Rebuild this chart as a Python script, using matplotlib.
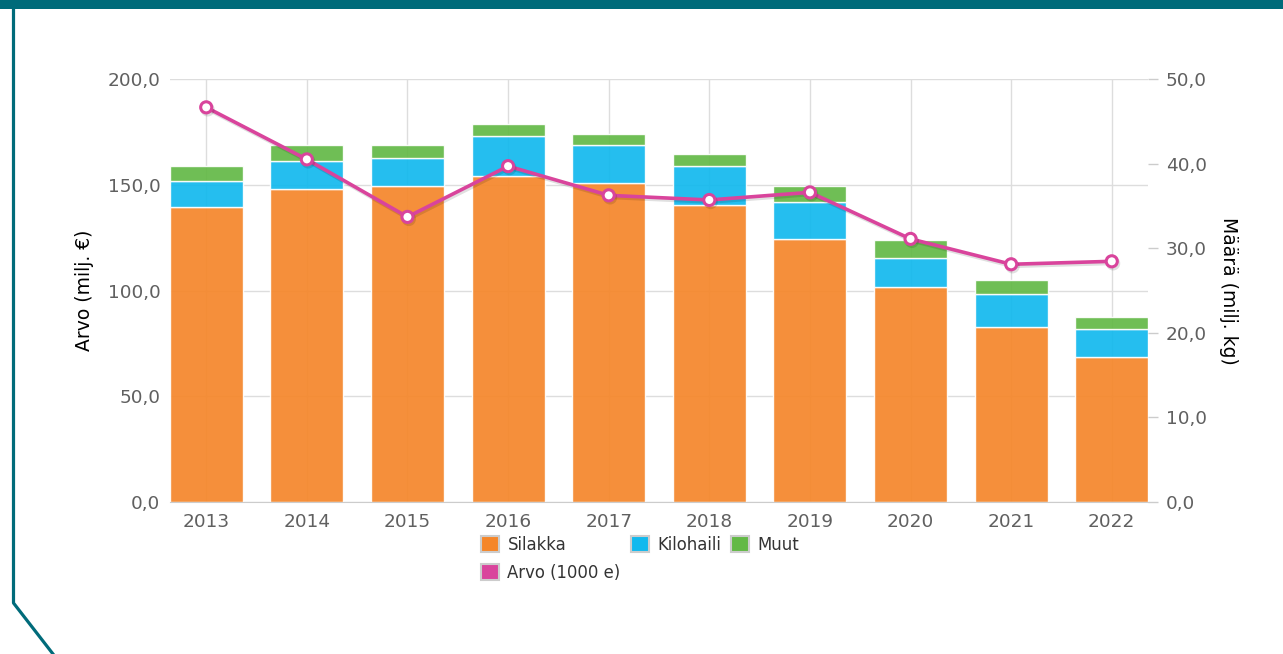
import numpy as np
import matplotlib
matplotlib.use("Agg")
import matplotlib.pyplot as plt
import matplotlib.ticker as ticker
import matplotlib.patheffects as pe
from matplotlib.patches import Patch, Rectangle
from matplotlib.lines import Line2D

plt.rcParams['font.family'] = ['DejaVu Sans']

years = ["2013", "2014", "2015", "2016", "2017", "2018", "2019", "2020", "2021", "2022"]
silakka = [139.3, 147.8, 149.3, 154.3, 150.7, 140.4, 124.2, 101.5, 82.6, 68.4]
kilohaili = [12.6, 13.4, 13.3, 18.9, 17.9, 18.5, 17.5, 13.7, 15.7, 13.4]
muut = [7.1, 7.4, 6.2, 5.4, 5.5, 5.8, 7.6, 8.7, 6.7, 5.7]
arvo = [46.65, 40.5, 33.7, 39.7, 36.25, 35.7, 36.6, 31.1, 28.1, 28.45]

c_sil = "#f5862a"
c_kilo = "#12b9ee"
c_muut = "#63b946"
c_line = "#d9449c"
teal = "#006b7a"

W, H = 1283, 654
fig = plt.figure(figsize=(W / 100, H / 100), dpi=100)
ax = fig.add_axes([170 / W, 1 - 502 / H, (1148 - 170) / W, (502 - 79) / H])

x = np.arange(len(years))
sil = np.array(silakka)
kil = np.array(kilohaili)
mu = np.array(muut)
bw = 0.725
kw = dict(width=bw, alpha=0.92, edgecolor=(1, 1, 1, 0.2), linewidth=1, zorder=2)
ax.bar(x, sil, color=c_sil, **kw)
ax.bar(x, kil, bottom=sil, color=c_kilo, **kw)
ax.bar(x, mu, bottom=sil + kil, color=c_muut, **kw)

ax.set_xlim(-0.36, len(years) - 1 + 0.36)
ax.set_ylim(0, 200)
ax.set_yticks(range(0, 201, 50))
ax.set_xticks(x)
ax.set_xticklabels(years)
fmt = ticker.FuncFormatter(lambda v, p: f"{v:.1f}".replace(".", ","))
ax.yaxis.set_major_formatter(fmt)
ax.grid(True, color="#dddddd", linewidth=1, zorder=0)
ax.set_axisbelow(True)
for s in ["top", "right", "left"]:
    ax.spines[s].set_visible(False)
ax.spines["bottom"].set_color("#cccccc")
ax.tick_params(axis="y", length=0, pad=7, labelsize=13.3, labelcolor="#606060")
ax.tick_params(axis="x", length=0, pad=8, labelsize=13.3, labelcolor="#606060")
ax.set_ylabel("Arvo (milj. €)", fontsize=13.5, color="black", labelpad=10)

ax2 = ax.twinx()
ax2.set_ylim(0, 50)
ax2.set_yticks(range(0, 51, 10))
ax2.yaxis.set_major_formatter(fmt)
for s in ["top", "right", "left", "bottom"]:
    ax2.spines[s].set_visible(False)
ax2.tick_params(axis="y", length=7, width=1, color="#cccccc", pad=6,
                labelsize=13.3, labelcolor="#606060")
ax2.set_ylabel("Määrä (milj. kg)", fontsize=13.5, color="black",
               rotation=270, labelpad=22)
ax2.plot(x, arvo, color=c_line, linewidth=2.6, marker="o", markersize=8,
         markerfacecolor="white", markeredgecolor=c_line, markeredgewidth=2.2,
         zorder=5,
         path_effects=[pe.SimpleLineShadow(offset=(1, -1.5), shadow_color="#000000", alpha=0.12),
                       pe.Normal()])

handles = [Patch(facecolor=c_sil, edgecolor="#cccccc", linewidth=1.5),
           Patch(facecolor=c_line, edgecolor="#cccccc", linewidth=1.5),
           Patch(facecolor=c_kilo, edgecolor="#cccccc", linewidth=1.5),
           Patch(facecolor=c_muut, edgecolor="#cccccc", linewidth=1.5)]
labels = ["Silakka", "Arvo (1000 e)", "Kilohaili", "Muut"]
leg = fig.legend(handles, labels, ncol=3, loc="upper center",
                 bbox_to_anchor=(640 / W, 1 - 521 / H), frameon=False,
                 fontsize=11.9, handlelength=1.1, handleheight=1.1,
                 handletextpad=0.5, columnspacing=0.6, labelspacing=0.6)
for t in leg.get_texts():
    t.set_color("#333333")

# frame decoration
fig.add_artist(Rectangle((0, 1 - 9 / H), 1, 9 / H, transform=fig.transFigure,
                         facecolor=teal, edgecolor="none"))
fig.add_artist(Line2D([13.5 / W, 13.5 / W, 53 / W], [1 - 9 / H, 1 - 603 / H, 0],
                      transform=fig.transFigure, color=teal, linewidth=2.3))

fig.savefig("out.png", dpi=100)
